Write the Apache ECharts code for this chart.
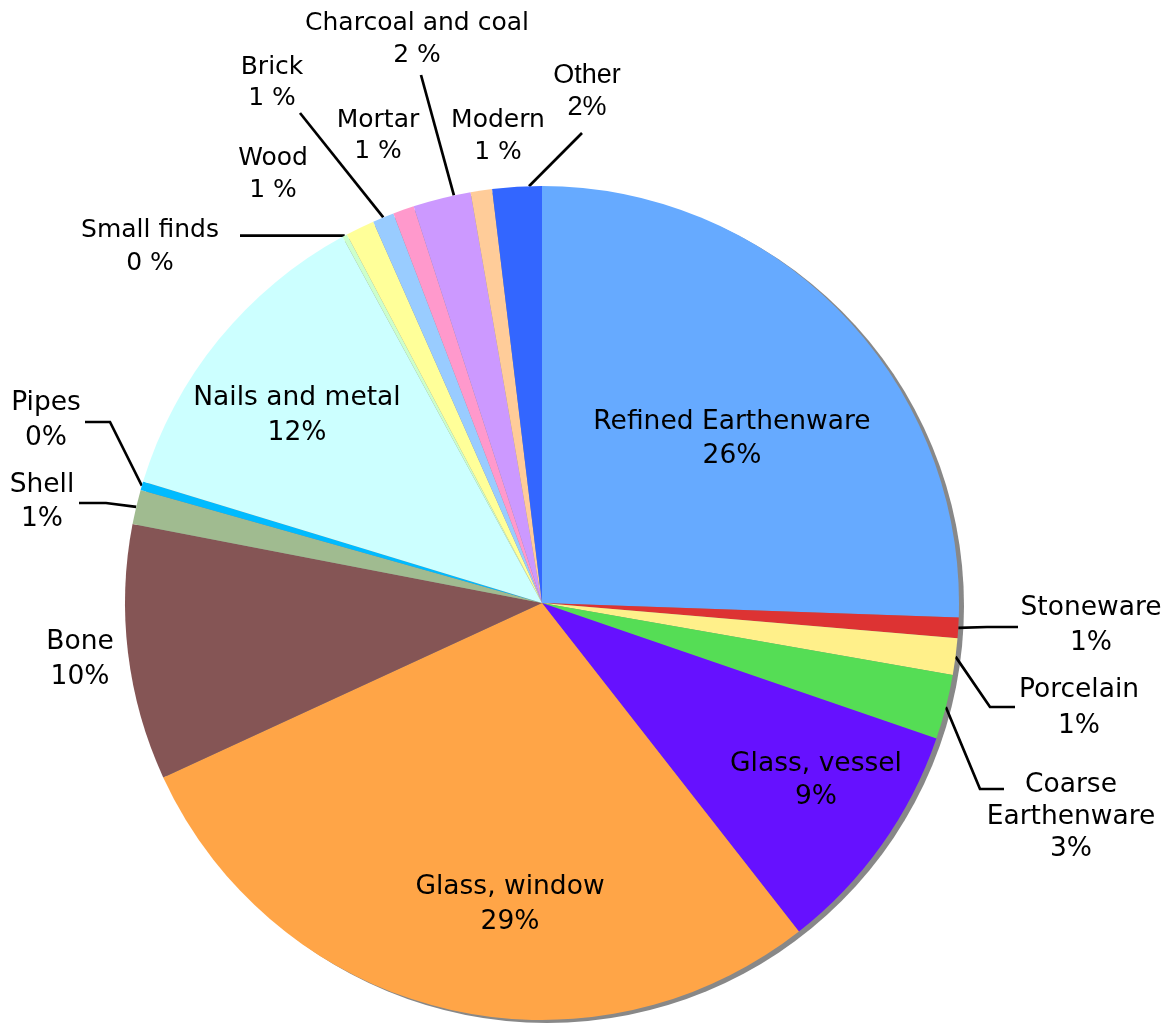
<!DOCTYPE html>
<html>
<head>
<meta charset="utf-8">
<script src="https://cdn.jsdelivr.net/npm/echarts@6/dist/echarts.min.js"></script>
<style>
html,body{margin:0;padding:0;background:#ffffff;}
#chart{width:1169px;height:1024px;}
</style>
</head>
<body>
<div id="chart"></div>
<script>
// ---- data ----
const categories = ['Refined Earthenware','Stoneware','Porcelain','Coarse Earthenware','Glass, vessel','Glass, window','Bone','Shell','Pipes','Nails and metal','Small finds','Wood','Brick','Mortar','Charcoal and coal','Modern','Other'];
const values = [25.56, 0.79, 1.41, 2.51, 9.17, 28.70, 9.90, 1.34, 0.33, 12.36, 0.19, 1.12, 0.83, 0.82, 2.24, 0.83, 1.91];
const labelTexts = ['Refined Earthenware\n26%','Stoneware\n1%','Porcelain\n1%','Coarse\nEarthenware\n3%','Glass, vessel\n9%','Glass, window\n29%','Bone\n10%','Shell\n1%','Pipes\n0%','Nails and metal\n12%','Small finds\n0 %','Wood\n1 %','Brick\n1 %','Mortar\n1 %','Charcoal and coal\n2 %','Modern\n1 %','Other\n2%'];

// ---- styles ----
const colors = ['#66AAFF','#DD3333','#FFF08A','#55DD55','#6611FF','#FFA547','#855555','#A0BB90','#00BBFF','#CCFFFF','#CCFFCC','#FFFF99','#99CCFF','#FF99CC','#CC99FF','#FFCC99','#3366FF'];
const PIE_CENTER = [542, 603];
const PIE_R = 417;

// label placement (text block centre, leader line points after the slice edge point)
const labelPlacement = [
  {x: 732, y: 439, lh: 34, size: 26.5, line: null},
  {x: 1091, y: 626, lh: 35, size: 26.5, line: [[987, 627], [1018, 627]]},
  {x: 1079, y: 708, lh: 36, size: 26.5, line: [[990, 707], [1015, 707]]},
  {x: 1071, y: 817, lh: 32, size: 26.5, line: [[980, 789], [1004, 789]]},
  {x: 816, y: 781, lh: 33, size: 26.5, line: null},
  {x: 510, y: 905, lh: 35, size: 26.5, line: null},
  {x: 80, y: 660, lh: 35, size: 26.5, line: null},
  {x: 42, y: 502, lh: 34, size: 26.5, line: [[106, 503], [79, 503]]},
  {x: 46, y: 421, lh: 35, size: 26.5, line: [[110, 422], [85, 422]]},
  {x: 297, y: 416, lh: 35, size: 26.5, line: null},
  {x: 150, y: 247, lh: 33, line: [[240, null]]},
  {x: 273, y: 174, lh: 32, line: null},
  {x: 272, y: 83, lh: 31, line: [[300, 113]]},
  {x: 378, y: 136, lh: 31, line: null},
  {x: 417, y: 39, lh: 32, line: [[421, 75]], shift: 1.7},
  {x: 498, y: 136, lh: 32, line: null},
  {x: 587, y: 92, lh: 32, line: [[582, 133]], shift: 1.65, font: 'Liberation Sans', size: 27}
];

const chart = echarts.init(document.getElementById('chart'), null, {renderer: 'canvas'});

const pieData = categories.map((name, i) => {
  const p = labelPlacement[i];
  const item = {
    name: name,
    value: values[i],
    itemStyle: {color: colors[i]},
    label: {lineHeight: p.lh},
    labelLine: {show: !!p.line}
  };
  if (p.font) { item.label.fontFamily = p.font; }
  if (p.size) { item.label.fontSize = p.size; }
  return item;
});

function rotateAround(pt, deg) {
  const a = deg * Math.PI / 180;
  const dx = pt[0] - PIE_CENTER[0], dy = pt[1] - PIE_CENTER[1];
  return [PIE_CENTER[0] + dx * Math.cos(a) - dy * Math.sin(a), PIE_CENTER[1] + dx * Math.sin(a) + dy * Math.cos(a)];
}

const option = {
  animation: false,
  backgroundColor: '#ffffff',
  series: [
    {
      type: 'pie',
      silent: true,
      z: 1,
      center: [PIE_CENTER[0] + 5, PIE_CENTER[1] + 3],
      radius: PIE_R,
      label: {show: false},
      labelLine: {show: false},
      itemStyle: {color: '#888888', borderWidth: 0},
      data: [{value: 1, name: 'shadow'}]
    },
    {
      type: 'pie',
      z: 2,
      center: PIE_CENTER,
      radius: PIE_R,
      startAngle: 90,
      clockwise: true,
      avoidLabelOverlap: false,
      itemStyle: {borderWidth: 0},
      emphasis: {disabled: true},
      label: {
        show: true,
        position: 'outside',
        color: '#000000',
        fontFamily: 'DejaVu Sans',
        fontSize: 25,
        lineHeight: 33,
        align: 'center',
        formatter: (p) => labelTexts[p.dataIndex]
      },
      labelLine: {
        show: true,
        length: 10,
        length2: 10,
        lineStyle: {color: '#000000', width: 2.7}
      },
      labelLayout: function (params) {
        const p = labelPlacement[params.dataIndex];
        const out = {x: p.x, y: p.y, align: 'center', verticalAlign: 'middle'};
        if (p.line && params.labelLinePoints && params.labelLinePoints.length) {
          let p0 = params.labelLinePoints[0].slice();
          if (p.shift) { p0 = rotateAround(p0, p.shift); }
          const pts = [p0];
          p.line.forEach(q => pts.push([q[0], q[1] == null ? p0[1] : q[1]]));
          while (pts.length < 3) { pts.push(pts[pts.length - 1].slice()); }
          out.labelLinePoints = pts;
        }
        return out;
      },
      data: pieData
    }
  ]
};

chart.setOption(option);
</script>
</body>
</html>
